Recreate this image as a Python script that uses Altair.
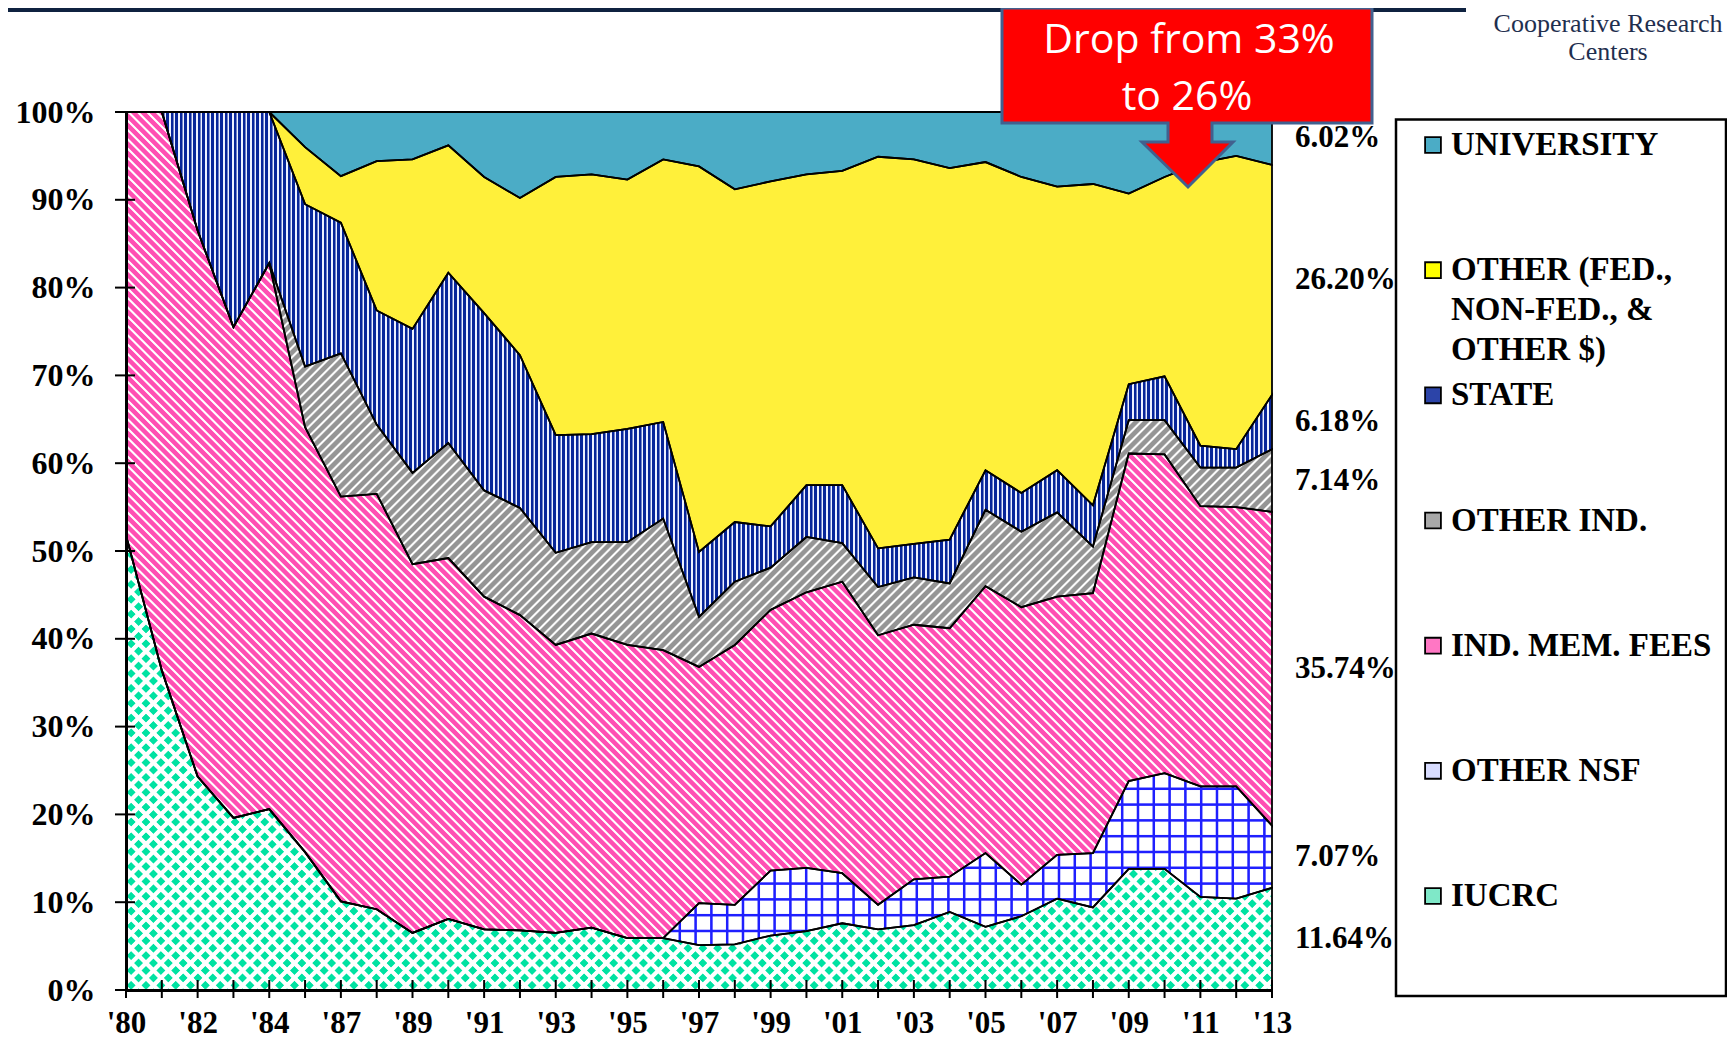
import math
import json
import altair as alt
import pandas as pd

# ---------------- data (% of funding) ----------------
years = ["'80", "'81", "'82", "'83", "'84", "'86", "'87", "'88", "'89", "'90",
         "'91", "'92", "'93", "'94", "'95", "'96", "'97", "'98", "'99", "'00",
         "'01", "'02", "'03", "'04", "'05", "'06", "'07", "'08", "'09", "'10",
         "'11", "'12", "'13"]

iucrc = [51.8, 36.4, 24.3, 19.6, 20.6, 15.7, 10.1, 9.2, 6.5, 8.1, 6.9, 6.8, 6.5,
         7.1, 5.9, 5.9, 5.1, 5.2, 6.2, 6.7, 7.6, 6.9, 7.4, 8.9, 7.2, 8.4, 10.4,
         9.4, 13.8, 13.8, 10.6, 10.4, 11.64]
other_nsf = [0, 0, 0, 0, 0, 0, 0, 0, 0, 0, 0, 0, 0, 0, 0, 0, 4.8, 4.5, 7.4, 7.2,
             5.7, 2.8, 5.2, 4.0, 8.4, 3.6, 5.0, 6.2, 10.0, 10.9, 12.6, 12.8, 7.07]
ind_mem_fees = [48.2, 63.6, 62.2, 55.9, 62.2, 48.4, 46.1, 47.3, 42.0, 41.1, 37.9,
                35.9, 32.8, 33.5, 33.4, 32.8, 26.9, 29.6, 29.7, 31.4, 33.2, 30.7,
                29.0, 28.3, 30.4, 31.6, 29.4, 29.6, 37.3, 36.3, 31.9, 31.8, 35.74]
other_ind = [0, 0, 0, 0, 0, 6.9, 16.3, 7.9, 10.4, 13.1, 12.1, 12.2, 10.5, 10.4,
             11.7, 15.0, 5.7, 7.2, 4.8, 6.3, 4.4, 5.5, 5.4, 5.1, 8.7, 8.6, 9.6,
             5.3, 3.8, 3.9, 4.4, 4.5, 7.14]
state = [0, 0, 13.5, 24.5, 17.2, 18.5, 14.9, 13.0, 16.4, 19.4, 20.2, 17.4, 13.4,
         12.3, 12.9, 11.0, 7.4, 6.8, 4.7, 5.9, 6.6, 4.4, 3.8, 5.0, 4.5, 4.4, 4.8,
         4.7, 4.1, 5.0, 2.5, 2.1, 6.18]
other_fed = [0, 0, 0, 0, 0, 6.5, 5.3, 17.0, 19.3, 14.5, 15.5, 17.9, 29.4, 29.6,
             28.4, 29.9, 43.9, 37.9, 39.3, 35.4, 35.8, 44.6, 43.8, 42.3, 35.1,
             36.0, 32.3, 36.6, 21.7, 22.7, 32.2, 33.4, 26.20]
university = [0, 0, 0, 0, 0, 4.0, 7.3, 5.6, 5.4, 3.8, 7.4, 9.8, 7.4, 7.1, 7.7,
              5.4, 6.2, 8.8, 7.9, 7.1, 6.7, 5.1, 5.4, 6.4, 5.7, 7.4, 8.5, 8.2,
              9.3, 7.4, 5.8, 5.0, 6.02]

# stacking order, bottom to top
series_keys = ["IUCRC", "OTHER NSF", "IND. MEM. FEES", "OTHER IND.", "STATE",
               "OTHER", "UNIVERSITY"]
series_vals = [iucrc, other_nsf, ind_mem_fees, other_ind, state, other_fed,
               university]

y_ticks = [0.0, 0.1, 0.2, 0.3, 0.4, 0.5, 0.6, 0.7, 0.8, 0.9, 1.0]
shown_idx = list(range(0, len(years), 2))

legend_keys = ["UNIVERSITY", "OTHER", "STATE", "OTHER IND.", "IND. MEM. FEES",
               "OTHER NSF", "IUCRC"]
legend_lines = [["UNIVERSITY"], ["OTHER (FED.,", "NON-FED., &", "OTHER $)"],
                ["STATE"], ["OTHER IND."], ["IND. MEM. FEES"], ["OTHER NSF"],
                ["IUCRC"]]
legend_swatch = ["#4bacc6", "#ffff00", "#2c44a8", "#a8a8a8", "#ff77c4",
                 "#d8dcff", "#7fe8c8"]

for v in series_vals:
    assert len(v) == len(years)

# ---------------- layout ----------------
PLOT_W, PLOT_H = 1146, 878
PAD_L, PAD_T = 118, 104
SVG_W, SVG_H = 1719, 1031
SERIF = "Liberation Serif"

rows = []
for o, (k, vals) in enumerate(zip(series_keys, series_vals)):
    for i, v in enumerate(vals):
        rows.append({"idx": i, "year": years[i], "series": k, "order": o, "value": v})
df = pd.DataFrame(rows)

# bounding boxes of each stacked band (for pattern gradients)
n = len(years)
totals = [sum(series_vals[s][i] for s in range(len(series_vals))) for i in range(n)]
bbox_h = {}
cum = [0.0] * n
for k, vals in zip(series_keys, series_vals):
    y0 = [cum[i] / totals[i] for i in range(n)]
    cum = [cum[i] + vals[i] for i in range(n)]
    y1 = [cum[i] / totals[i] for i in range(n)]
    bbox_h[k] = max(1.0, (max(y1) - min(y0)) * PLOT_H)


def stripe_fill(W, H, normal, period, pattern):
    nx, ny = normal
    L = math.hypot(nx, ny)
    nx, ny = nx / L, ny / L
    corners = [(0.0, 0.0), (W, 0.0), (0.0, H), (W, H)]
    proj = [cx * nx + cy * ny for cx, cy in corners]
    m0, m1 = min(proj), max(proj)
    span = m1 - m0
    c0 = corners[proj.index(m0)]
    S = (c0[0] / W, c0[1] / H)
    g = (W * nx / span, H * ny / span)
    g2 = g[0] ** 2 + g[1] ** 2
    E = (S[0] + g[0] / g2, S[1] + g[1] / g2)
    step = period / span
    stops = []
    k = 0
    while k * step <= 1.0:
        for f, c in pattern:
            off = (k + f) * step
            if off <= 1.0:
                stops.append({"offset": round(off, 6), "color": c})
        k += 1
    return {"gradient": "linear", "x1": round(S[0], 6), "y1": round(S[1], 6),
            "x2": round(E[0], 6), "y2": round(E[1], 6), "stops": stops}


W = float(PLOT_W)
WHITE0 = "rgba(255,255,255,0)"
BLUE0 = "rgba(31,31,255,0)"
pink_pat = [(0, "#ff4fb3"), (0.55, "#ff4fb3"), (0.68, "#ffffff"), (0.87, "#ffffff")]
gray_pat = [(0, "#959595"), (0.52, "#959595"), (0.7, "#ffffff"), (0.82, "#ffffff")]
navy_pat = [(0, "#08269a"), (0.5, "#08269a"), (0.62, "#eef1ff"), (0.9, "#eef1ff")]
grid_pat = [(0, "#1f1fff"), (0.1, "#1f1fff"), (0.16, BLUE0), (0.94, BLUE0)]
dia_pat = [(0, "#ffffff"), (0.32, "#ffffff"), (0.4, WHITE0), (0.92, WHITE0)]

fills = {
    "IUCRC": ["#00e2a2",
              stripe_fill(W, bbox_h["IUCRC"], (1, 1), 10.5, dia_pat),
              stripe_fill(W, bbox_h["IUCRC"], (1, -1), 10.5, dia_pat)],
    "OTHER NSF": ["#ffffff",
                  stripe_fill(W, bbox_h["OTHER NSF"], (1, 0), 15.8, grid_pat),
                  stripe_fill(W, bbox_h["OTHER NSF"], (0, 1), 15.8, grid_pat)],
    "IND. MEM. FEES": [stripe_fill(W, bbox_h["IND. MEM. FEES"], (1, -1), 6.6, pink_pat)],
    "OTHER IND.": [stripe_fill(W, bbox_h["OTHER IND."], (1, 1), 6.8, gray_pat)],
    "STATE": [stripe_fill(W, bbox_h["STATE"], (1, 0), 4.5, navy_pat)],
    "OTHER": ["#fff03a"],
    "UNIVERSITY": ["#4bacc6"],
}

# ---------------- scales / axes ----------------
xscale = alt.Scale(domain=[0, n - 1], nice=False, zero=False)
xaxis = alt.Axis(values=shown_idx, labelExpr=json.dumps(years) + "[datum.value]",
                 ticks=False, tickSize=0, grid=False, domainColor="black",
                 domainWidth=3, labelFont=SERIF, labelFontWeight="bold",
                 labelFontSize=31, labelColor="black", labelBaseline="alphabetic",
                 labelPadding=42, labelFlush=False, labelOverlap=False,
                 labelAngle=0, zindex=1)
yscale = alt.Scale(domain=[0, 1], nice=False, zero=True)
yaxis = alt.Axis(values=y_ticks, format=".0%", ticks=False, tickSize=0, grid=False,
                 domainColor="black", domainWidth=3, labelFont=SERIF,
                 labelFontWeight="bold", labelFontSize=32, labelColor="black",
                 labelPadding=31, labelOverlap=False, zindex=1)


def X():
    return alt.X("idx:Q", scale=xscale, axis=xaxis, title=None)


def Y(field):
    return alt.Y(field, scale=yscale, axis=yaxis, title=None)


base = alt.Chart(df).transform_stack(
    stack="value", groupby=["idx"], as_=["y0", "y1"],
    sort=[alt.SortField("order", order="ascending")], offset="normalize")

layers = []
for k in series_keys:
    for f in fills[k]:
        layers.append(
            base.transform_filter(alt.FieldEqualPredicate(field="series", equal=k))
            .mark_area(fill=f, strokeWidth=0)
            .encode(x=X(), y=Y("y1:Q"), y2="y0:Q"))
for k in series_keys:
    layers.append(
        base.transform_filter(alt.FieldEqualPredicate(field="series", equal=k))
        .mark_area(fillOpacity=0, stroke="black", strokeWidth=1.8)
        .encode(x=X(), y=Y("y1:Q"), y2="y0:Q"))

xticks = alt.Chart(pd.DataFrame({"idx": list(range(n))})).mark_rule(
    color="black", strokeWidth=2).encode(
    x=X(), y=alt.value(PLOT_H - 10), y2=alt.value(PLOT_H + 8))
yticks = alt.Chart(pd.DataFrame({"v": y_ticks})).mark_rule(
    color="black", strokeWidth=2).encode(
    y=Y("v:Q"), x=alt.value(-11), x2=alt.value(9))

pct_labels = base.transform_filter(alt.datum.idx == n - 1).transform_calculate(
    mid="(datum.y0 + datum.y1) / 2",
    label="format(datum.value, '.2f') + '%'").mark_text(
    align="left", baseline="middle", dx=23, font=SERIF, fontWeight="bold",
    fontSize=31, color="black").encode(x=X(), y=Y("mid:Q"), text="label:N")

main = alt.layer(*layers, xticks, yticks, pct_labels)

# ---------------- legend ----------------
leg_rows = []
for key, lines in zip(legend_keys, legend_lines):
    for j, t in enumerate(lines):
        leg_rows.append({"entry": key, "line": j, "text": t})
leg_df = pd.DataFrame(leg_rows)
leg_y = alt.Y("entry:N", scale=alt.Scale(type="point", domain=legend_keys,
                                         range=[33, 784], padding=0),
              axis=None, title=None)
one = pd.DataFrame({"k": [0]})

leg_box = alt.Chart(one).mark_rect(fill="white", stroke="black", strokeWidth=2.5).encode(
    x=alt.value(1270), x2=alt.value(SVG_W - PAD_L - 1), y=alt.value(7.5), y2=alt.value(884))
leg_sym = alt.Chart(pd.DataFrame({"entry": legend_keys})).mark_point(
    shape="square", size=250, filled=True, opacity=1, stroke="black",
    strokeWidth=1.8).encode(
    x=alt.value(1307), y=leg_y,
    color=alt.Color("entry:N", scale=alt.Scale(domain=legend_keys, range=legend_swatch),
                    legend=None))
leg_texts = []
for j in range(3):
    leg_texts.append(
        alt.Chart(leg_df).transform_filter(alt.datum.line == j).mark_text(
            align="left", baseline="middle", dy=40 * j, font=SERIF,
            fontWeight="bold", fontSize=33, color="black").encode(
            x=alt.value(1325), y=leg_y, text="text:N"))
legend = alt.layer(leg_box, leg_sym, *leg_texts)

# ---------------- annotations ----------------
cx, cy, r = 1187.0, 97.5, 185.0
callout_pts = [(1002, 8), (1372, 8), (1372, 123), (1212, 123), (1212, 142),
               (1233, 142), (1188, 187), (1142, 142), (1168, 142), (1168, 123),
               (1002, 123)]
path = "M" + " L".join(f"{(x - cx) / r:.4f},{(y - cy) / r:.4f}" for x, y in callout_pts) + " Z"
callout = alt.Chart(one).mark_point(
    shape=path, size=(2 * r) ** 2, filled=True, fill="#ff0000", stroke="#41618f",
    strokeWidth=3, opacity=1).encode(
    x=alt.value(cx - 126), y=alt.value(cy - 112))
call_t1 = alt.Chart(one).mark_text(
    font="Open Sans", fontSize=41, color="white", align="center",
    baseline="alphabetic").encode(
    x=alt.value(1063), y=alt.value(-59), text=alt.value("Drop from 33%"))
call_t2 = alt.Chart(one).mark_text(
    font="Open Sans", fontSize=41, color="white", align="center",
    baseline="alphabetic").encode(
    x=alt.value(1061), y=alt.value(-2), text=alt.value("to 26%"))
head1 = alt.Chart(one).mark_text(
    font=SERIF, fontSize=26, color="#1f2f4f", align="center",
    baseline="alphabetic").encode(
    x=alt.value(1482), y=alt.value(-80), text=alt.value("Cooperative Research"))
head2 = alt.Chart(one).mark_text(
    font=SERIF, fontSize=26, color="#1f2f4f", align="center",
    baseline="alphabetic").encode(
    x=alt.value(1482), y=alt.value(-52), text=alt.value("Centers"))
band = alt.Chart(one).mark_rect(color="#0f2240").encode(
    x=alt.value(-PAD_L), x2=alt.value(1340), y=alt.value(-PAD_T), y2=alt.value(-PAD_T + 4))
annot = alt.layer(band, head1, head2, callout, call_t1, call_t2)

chart = alt.layer(main, legend, annot).resolve_scale(y="independent").properties(
    width=PLOT_W, height=PLOT_H,
    autosize=alt.AutoSizeParams(type="none"),
    padding={"left": PAD_L, "top": PAD_T, "right": SVG_W - PAD_L - PLOT_W,
             "bottom": SVG_H - PAD_T - PLOT_H},
    background="white").configure_view(strokeWidth=0)

chart.save("out.html", embed_options={"renderer": "svg", "actions": False})
